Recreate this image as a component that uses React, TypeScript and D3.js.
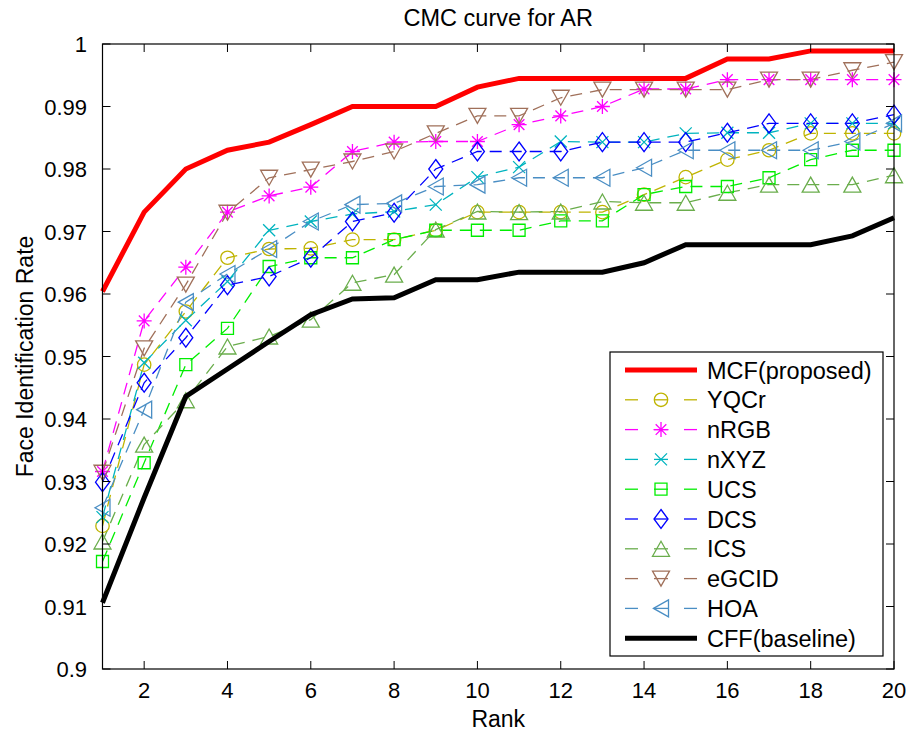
import React from "react";
import * as d3 from "d3";

const ranks = [1, 2, 3, 4, 5, 6, 7, 8, 9, 10, 11, 12, 13, 14, 15, 16, 17, 18, 19, 20];

const mcf = [0.9604, 0.9731, 0.98, 0.983, 0.9843, 0.9871, 0.99, 0.99, 0.99, 0.9931, 0.9945, 0.9945, 0.9945, 0.9945, 0.9945, 0.9976, 0.9976, 0.9989, 0.9989, 0.9989];
const yqcr = [0.9229, 0.9487, 0.9572, 0.9658, 0.9672, 0.9673, 0.9687, 0.9687, 0.9702, 0.9731, 0.9731, 0.9731, 0.9731, 0.9759, 0.9787, 0.9815, 0.983, 0.9857, 0.9857, 0.9857];
const nrgb = [0.9316, 0.9557, 0.9643, 0.9731, 0.9757, 0.9771, 0.9828, 0.9843, 0.9844, 0.9844, 0.9871, 0.9885, 0.99, 0.9928, 0.9928, 0.9943, 0.9943, 0.9943, 0.9943, 0.9943];
const nxyz = [0.9243, 0.949, 0.9558, 0.962, 0.9702, 0.9716, 0.9728, 0.9732, 0.9743, 0.9787, 0.9803, 0.9844, 0.9843, 0.9843, 0.9857, 0.9858, 0.9858, 0.9873, 0.9873, 0.9873];
const ucs = [0.9172, 0.933, 0.9487, 0.9545, 0.9644, 0.9658, 0.9658, 0.9687, 0.9702, 0.9702, 0.9702, 0.9717, 0.9717, 0.9759, 0.9772, 0.9772, 0.9786, 0.9815, 0.983, 0.983];
const dcs = [0.9299, 0.9458, 0.953, 0.9614, 0.9628, 0.9658, 0.9716, 0.973, 0.98, 0.9828, 0.9828, 0.9828, 0.9843, 0.9843, 0.9843, 0.9858, 0.9873, 0.9873, 0.9873, 0.9887];
const ics = [0.9204, 0.9359, 0.943, 0.9516, 0.9532, 0.9559, 0.9618, 0.9631, 0.9703, 0.9732, 0.9731, 0.9732, 0.9748, 0.9746, 0.9746, 0.9762, 0.9775, 0.9775, 0.9775, 0.979];
const egcid = [0.9314, 0.9513, 0.9615, 0.973, 0.9786, 0.9799, 0.9812, 0.9828, 0.9857, 0.9885, 0.9885, 0.9914, 0.9927, 0.9927, 0.9927, 0.9927, 0.9943, 0.9943, 0.9958, 0.9971];
const hoa = [0.9258, 0.9415, 0.9587, 0.9632, 0.9672, 0.9716, 0.9743, 0.9745, 0.9772, 0.9775, 0.9786, 0.9786, 0.9786, 0.9802, 0.983, 0.983, 0.983, 0.983, 0.9844, 0.9873];
const cff = [0.9106, 0.9274, 0.9436, 0.948, 0.9524, 0.9567, 0.9592, 0.9594, 0.9623, 0.9623, 0.9635, 0.9635, 0.9635, 0.965, 0.9679, 0.9679, 0.9679, 0.9679, 0.9693, 0.9722];

const xTicks = [2, 4, 6, 8, 10, 12, 14, 16, 18, 20];
const yTicks = [0.9, 0.91, 0.92, 0.93, 0.94, 0.95, 0.96, 0.97, 0.98, 0.99, 1];
const yTickLabels = ["0.9", "0.91", "0.92", "0.93", "0.94", "0.95", "0.96", "0.97", "0.98", "0.99", "1"];

type Series = { name: string; values: number[]; color: string; marker: string | null; solid: boolean };

const series: Series[] = [
  { name: "MCF(proposed)", values: mcf, color: "#ff0000", marker: null, solid: true },
  { name: "YQCr", values: yqcr, color: "#bfb400", marker: "circle", solid: false },
  { name: "nRGB", values: nrgb, color: "#ff00ff", marker: "asterisk", solid: false },
  { name: "nXYZ", values: nxyz, color: "#00b4bf", marker: "x", solid: false },
  { name: "UCS", values: ucs, color: "#00ee00", marker: "square", solid: false },
  { name: "DCS", values: dcs, color: "#0000ff", marker: "diamond", solid: false },
  { name: "ICS", values: ics, color: "#6aad4c", marker: "triUp", solid: false },
  { name: "eGCID", values: egcid, color: "#a0705a", marker: "triDown", solid: false },
  { name: "HOA", values: hoa, color: "#4a8ec4", marker: "triLeft", solid: false },
  { name: "CFF(baseline)", values: cff, color: "#000000", marker: null, solid: true },
];

const FONT = "'Liberation Sans', Arial, Helvetica, sans-serif";

function markerPath(m: string): string {
  switch (m) {
    case "circle": {
      const p = d3.path();
      p.arc(0, 0, 6.7, 0, Math.PI * 2);
      return p.toString();
    }
    case "square":
      return "M-6,-6H6V6H-6Z";
    case "diamond":
      return "M0,-9.5L7,0L0,9.5L-7,0Z";
    case "triUp":
      return "M0,-7.5L8.5,7.5L-8.5,7.5Z";
    case "triDown":
      return "M0,7.5L8.5,-7.5L-8.5,-7.5Z";
    case "triLeft":
      return "M-7.5,0L7.5,-8.5L7.5,8.5Z";
    case "x":
      return "M-6,-6L6,6M-6,6L6,-6";
    case "asterisk":
      return "M0,-7.5V7.5M-7.5,0H7.5M-5.3,-5.3L5.3,5.3M-5.3,5.3L5.3,-5.3";
    default:
      return "";
  }
}

export default function App() {
  const W = 912;
  const H = 735;
  const left = 102.5;
  const right = 894;
  const top = 44;
  const bottom = 669;

  const x = d3.scaleLinear().domain([1, 20]).range([left, right]);
  const y = d3.scaleLinear().domain([0.9, 1]).range([bottom, top]);

  const line = d3
    .line<number>()
    .x((_, i) => x(ranks[i]))
    .y((v) => y(v));

  const dashed = series.filter((s) => !s.solid);
  const solids = series.filter((s) => s.solid);

  const legX = 610;
  const legY = 352;
  const legW = 273;
  const legH = 304;
  const rowY0 = 370;
  const rowStep = 29.8;

  return (
    <svg
      width={W}
      height={H}
      viewBox={`0 0 ${W} ${H}`}
      style={{ position: "absolute", left: 0, top: 0, background: "#fff" }}
    >
      <rect x={0} y={0} width={W} height={H} fill="#fff" />
      <text x={(left + right) / 2} y={26} textAnchor="middle" fontFamily={FONT} fontSize={23.5} fill="#000">
        CMC curve for AR
      </text>

      {dashed.map((s) => (
        <path
          key={s.name + "-line"}
          d={line(s.values) || ""}
          fill="none"
          stroke={s.color}
          strokeWidth={1.3}
          strokeDasharray="12,8"
        />
      ))}
      {dashed.map((s) =>
        s.values.map((v, i) => (
          <path
            key={s.name + "-m" + i}
            d={markerPath(s.marker as string)}
            transform={`translate(${x(ranks[i])},${y(v)})`}
            fill="none"
            stroke={s.color}
            strokeWidth={1.3}
          />
        ))
      )}
      {solids.map((s) => (
        <path
          key={s.name + "-line"}
          d={line(s.values) || ""}
          fill="none"
          stroke={s.color}
          strokeWidth={5}
          strokeLinejoin="miter"
        />
      ))}

      <rect x={left} y={top} width={right - left} height={bottom - top} fill="none" stroke="#000" strokeWidth={1.2} />
      {xTicks.map((t) => (
        <g key={"xt" + t}>
          <line x1={x(t)} x2={x(t)} y1={bottom} y2={bottom - 8} stroke="#000" strokeWidth={1} />
          <line x1={x(t)} x2={x(t)} y1={top} y2={top + 8} stroke="#000" strokeWidth={1} />
          <text x={x(t)} y={698} textAnchor="middle" fontFamily={FONT} fontSize={22} fill="#000">
            {t}
          </text>
        </g>
      ))}
      {yTicks.map((t, i) => (
        <g key={"yt" + t}>
          <line x1={left} x2={left + 8} y1={y(t)} y2={y(t)} stroke="#000" strokeWidth={1} />
          <line x1={right} x2={right - 8} y1={y(t)} y2={y(t)} stroke="#000" strokeWidth={1} />
          <text x={87} y={y(t) + 8} textAnchor="end" fontFamily={FONT} fontSize={22} fill="#000">
            {yTickLabels[i]}
          </text>
        </g>
      ))}

      <text x={(left + right) / 2} y={727} textAnchor="middle" fontFamily={FONT} fontSize={23} fill="#000">
        Rank
      </text>
      <text
        transform={`translate(33,${(top + bottom) / 2}) rotate(-90)`}
        textAnchor="middle"
        fontFamily={FONT}
        fontSize={23}
        fill="#000"
      >
        Face Identification Rate
      </text>

      <rect x={legX} y={legY} width={legW} height={legH} fill="#fff" stroke="#000" strokeWidth={1.2} />
      {series.map((s, i) => {
        const ry = rowY0 + i * rowStep;
        return (
          <g key={"leg" + s.name}>
            {s.solid ? (
              <line x1={625} x2={697} y1={ry} y2={ry} stroke={s.color} strokeWidth={5} />
            ) : (
              <g>
                <line x1={625} x2={638} y1={ry} y2={ry} stroke={s.color} strokeWidth={1.3} />
                <line x1={684} x2={697} y1={ry} y2={ry} stroke={s.color} strokeWidth={1.3} />
                <line x1={654} x2={668} y1={ry} y2={ry} stroke={s.color} strokeWidth={1.3} />
                <path
                  d={markerPath(s.marker as string)}
                  transform={`translate(661,${ry})`}
                  fill="none"
                  stroke={s.color}
                  strokeWidth={1.3}
                />
              </g>
            )}
            <text x={707} y={ry + 8.5} fontFamily={FONT} fontSize={23.5} fill="#000">
              {s.name}
            </text>
          </g>
        );
      })}
    </svg>
  );
}
